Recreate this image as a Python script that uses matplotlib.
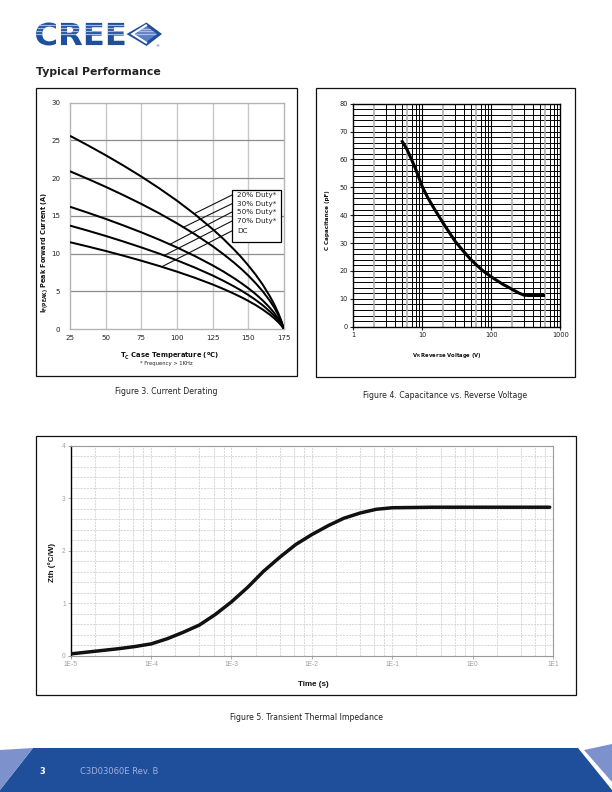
import matplotlib
matplotlib.use("Agg")
import matplotlib.pyplot as plt
import numpy as np
from matplotlib.patches import Rectangle, Polygon, PathPatch
from matplotlib.textpath import TextPath
from matplotlib.font_manager import FontProperties
from matplotlib.ticker import FixedLocator, NullLocator, FixedFormatter
import matplotlib.transforms as mtransforms

# ---------------- data ----------------
# Figure 3: current derating
temp_c = [25, 37.5, 50, 62.5, 75, 87.5, 100, 112.5, 125, 132.5, 140, 145, 150, 155,
          160, 165, 168, 171, 173, 175]
i_duty20 = [25.6, 24.34, 23.03, 21.65, 20.2, 18.65, 17.0, 15.2, 13.23, 11.94, 10.53, 9.52,
            8.42, 7.23, 5.9, 4.37, 3.32, 2.1, 1.15, 0.0]
i_duty30 = [20.9, 19.89, 18.84, 17.73, 16.57, 15.33, 14.0, 12.56, 10.97, 9.92, 8.79, 7.97,
            7.08, 6.1, 5.02, 3.76, 2.88, 1.86, 1.03, 0.0]
i_duty50 = [16.2, 15.41, 14.59, 13.72, 12.81, 11.84, 10.8, 9.67, 8.43, 7.62, 6.73, 6.09,
            5.4, 4.65, 3.8, 2.83, 2.16, 1.38, 0.76, 0.0]
i_duty70 = [13.7, 13.03, 12.33, 11.59, 10.81, 9.99, 9.1, 8.14, 7.09, 6.39, 5.64, 5.1,
            4.51, 3.87, 3.16, 2.34, 1.78, 1.13, 0.61, 0.0]
i_dc = [11.5, 10.93, 10.34, 9.71, 9.05, 8.35, 7.6, 6.79, 5.9, 5.31, 4.67, 4.22,
        3.72, 3.19, 2.59, 1.91, 1.44, 0.9, 0.49, 0.0]
duty_labels = ["20% Duty*", "30% Duty*", "50% Duty*", "70% Duty*", "DC"]
leader_end_temp = [112, 104.5, 95, 91, 89.3]
temp_ticks = [25, 50, 75, 100, 125, 150, 175]
current_ticks = [0, 5, 10, 15, 20, 25, 30]

# Figure 4: capacitance vs reverse voltage
vr = [5, 6, 7, 8, 10, 12, 15, 20, 30, 40, 50, 60, 70, 80, 100, 120, 150, 170, 200,
      230, 250, 280, 300, 350, 400, 600]
cap_pf = [66.9, 63.6, 59.9, 56.6, 50.2, 46.3, 42.2, 37.2, 30.6, 26.9, 24.2, 22.3, 20.8,
          19.6, 17.9, 16.6, 15.1, 14.4, 13.4, 12.6, 12.1, 11.6, 11.3, 11.2, 11.2, 11.2]
vr_ticks = [1, 10, 100, 1000]
vr_ticklabels = ["1", "10", "100", "1000"]
cap_ticks = [0, 10, 20, 30, 40, 50, 60, 70, 80]

# Figure 5: transient thermal impedance
time_s = [1e-5, 2e-5, 4e-5, 6.3e-5, 1e-4, 1.6e-4, 2.5e-4, 4e-4, 6.3e-4, 1e-3, 1.6e-3,
          2.5e-3, 4e-3, 6.3e-3, 1e-2, 1.6e-2, 2.5e-2, 4e-2, 6.3e-2, 0.1, 0.32, 1.0, 3.2, 9.1]
zth = [0.04, 0.09, 0.14, 0.18, 0.23, 0.33, 0.45, 0.59, 0.79, 1.03, 1.31,
       1.61, 1.88, 2.12, 2.31, 2.48, 2.62, 2.72, 2.79, 2.82, 2.83, 2.83, 2.83, 2.83]
time_ticks = [1e-5, 1e-4, 1e-3, 1e-2, 1e-1, 1e0, 1e1]
time_ticklabels = ["1E-5", "1E-4", "1E-3", "1E-2", "1E-1", "1E0", "1E1"]
zth_ticks = [0, 1, 2, 3, 4]

# ---------------- page ----------------
W, H = 612, 792
fig = plt.figure(figsize=(6.12, 7.92), dpi=100)
fig.patch.set_facecolor("white")
plt.rcParams["font.family"] = ["DejaVu Sans"]

bg = fig.add_axes([0, 0, 1, 1], zorder=0)
bg.set_xlim(0, W)
bg.set_ylim(H, 0)
bg.axis("off")

BLUE = "#1f4f9b"
LIGHT = "#7d91cd"

# logo
fp = FontProperties(family="DejaVu Sans", weight="bold")
tp = TextPath((0, 0), "CREE", size=30, prop=fp)
ext = tp.get_extents()
sx = (124.5 - 36) / ext.width
sy = (45.5 - 22.5) / ext.height
tr = mtransforms.Affine2D().translate(-ext.x0, -ext.y0).scale(sx, -sy).translate(36, 45.5)
logo_path = tr.transform_path(tp)
logo = PathPatch(logo_path, facecolor=BLUE, edgecolor="none", transform=bg.transData)
bg.add_patch(logo)
for ys in [25.0, 28.0, 31.0, 34.0]:
    ln, = bg.plot([34, 126], [ys, ys], color="#a6b8e2", lw=0.9)
    ln.set_clip_path(logo)
dia = Polygon([(126.5, 34), (146.5, 22.5), (162, 34), (146.5, 46)], closed=True,
              facecolor=BLUE, edgecolor="none")
bg.add_patch(dia)
inner = Polygon([(135, 34), (147, 26.5), (157, 34), (147, 41.5)], closed=True,
                facecolor="#5f7fc4", edgecolor="none")
bg.add_patch(inner)
for ys in [28.5, 31, 33.5]:
    ln, = bg.plot([130, 160], [ys, ys], color="#a9bbe3", lw=0.9)
    ln.set_clip_path(inner)
bg.plot([146, 132.5, 146], [25.5, 34, 42.5], color="white", lw=1.6, solid_joinstyle="miter")
bg.text(157.5, 46.5, "®", fontsize=3, color=BLUE, ha="center", va="center")

bg.text(36, 72, "Typical Performance", fontsize=7.8, fontweight="bold", color="#222222",
        ha="left", va="center")

# frames
for (x0, y0, x1, y1) in [(36, 88, 296.5, 375.5), (316, 88, 574.5, 377), (36, 435.5, 576, 695)]:
    bg.add_patch(Rectangle((x0, y0), x1 - x0, y1 - y0, facecolor="none",
                           edgecolor="#111111", lw=0.9))

# captions
bg.text(166, 392, "Figure 3. Current Derating", fontsize=5.6, color="#222222", ha="center", va="center")
bg.text(445.5, 395, "Figure 4. Capacitance vs. Reverse Voltage", fontsize=5.6, color="#222222",
        ha="center", va="center")
bg.text(306, 718, "Figure 5. Transient Thermal Impedance", fontsize=5.6, color="#222222",
        ha="center", va="center")

# footer
bg.add_patch(Polygon([(33, 748), (578, 748), (612, 790), (612, 792), (0, 792), (0, 790)],
                     closed=True, facecolor=BLUE, edgecolor="none"))
bg.add_patch(Polygon([(0, 750), (33, 748), (0, 790)], closed=True, facecolor=LIGHT, edgecolor="none"))
bg.add_patch(Polygon([(584, 750), (612, 744), (612, 782)], closed=True, facecolor=LIGHT, edgecolor="none"))
bg.text(42, 771, "3", fontsize=6, fontweight="bold", color="white", ha="center", va="center")
bg.text(80, 771, "C3D03060E Rev. B", fontsize=6, color="#9fb0e0", ha="left", va="center")

# ---------------- Figure 3 ----------------
ax3 = fig.add_axes([70 / W, 1 - 329 / H, 214 / W, 226.4 / H], zorder=2)
ax3.set_xlim(25, 175)
ax3.set_ylim(0, 30)
for x in temp_ticks[1:-1]:
    ax3.axvline(x, color="#c8c8c8", lw=1.0, zorder=1)
for y in current_ticks[1:-1]:
    ax3.axhline(y, color="#8c8c8c", lw=0.9, zorder=1)
series = [i_duty20, i_duty30, i_duty50, i_duty70, i_dc]
for s in series:
    ax3.plot(temp_c, s, color="black", lw=1.45, zorder=3, solid_capstyle="butt",
             solid_joinstyle="round")
box_left, box_right, box_bottom, box_top = 138.5, 172.9, 11.56, 18.4
row_i = [17.75, 16.6, 15.5, 14.3, 13.0]
for lab, s, t_end, ri in zip(duty_labels, series, leader_end_temp, row_i):
    i_end = np.interp(t_end, temp_c, s)
    ax3.plot([t_end, box_left], [i_end, ri], color="#111111", lw=0.8, zorder=2)
    ax3.text(142.2, ri, lab, fontsize=5.2, color="#222222", ha="left", va="center", zorder=6)
ax3.add_patch(Rectangle((box_left, box_bottom), box_right - box_left, box_top - box_bottom,
                        facecolor="white", edgecolor="black", lw=0.9, zorder=5))
ax3.set_xticks(temp_ticks)
ax3.set_yticks(current_ticks)
ax3.tick_params(length=0, labelsize=5.1, colors="#222222")
ax3.tick_params(axis="y", pad=7)
ax3.tick_params(axis="x", pad=4)
for sp in ax3.spines.values():
    sp.set_color("#b4b4b4")
    sp.set_linewidth(1.0)

bg.text(169, 356, r"T$_\mathbf{C}$ Case Temperature ($^\mathbf{o}$C)", fontsize=4.9,
        fontweight="bold", color="#111111", ha="center", va="center")
bg.text(166, 364, "* Frequency > 1KHz", fontsize=3.8, color="#222222", ha="center", va="center")
bg.text(45.5, 252, r"I$_\mathbf{F(PEAK)}$ Peak Forward Current (A)", fontsize=4.7,
        fontweight="bold", color="#111111", ha="center", va="center", rotation=90)

# ---------------- Figure 4 ----------------
ax4 = fig.add_axes([353.3 / W, 1 - 326.7 / H, 207 / W, 223 / H], zorder=2)
ax4.set_xscale("log")
ax4.set_xlim(1, 1000)
ax4.set_ylim(0, 80)
for y in range(2, 80, 2):
    ax4.axhline(y, color="black", lw=0.7, zorder=1)
for dec in [1, 10, 100]:
    for m in range(2, 10):
        if m in (2, 6):
            ax4.axvline(dec * m, color="#a8a8a8", lw=1.1, zorder=1)
        else:
            ax4.axvline(dec * m, color="black", lw=0.7, zorder=1)
for x in [10, 100]:
    ax4.axvline(x, color="black", lw=0.8, zorder=1)
ax4.plot(vr, cap_pf, color="black", lw=2.2, zorder=3, solid_capstyle="butt",
         solid_joinstyle="round")
ax4.xaxis.set_major_locator(FixedLocator(vr_ticks))
ax4.xaxis.set_major_formatter(FixedFormatter(vr_ticklabels))
ax4.xaxis.set_minor_locator(NullLocator())
ax4.set_yticks(cap_ticks)
ax4.tick_params(length=2, width=0.8, labelsize=4.8, colors="#222222", pad=2)
for sp in ax4.spines.values():
    sp.set_color("black")
    sp.set_linewidth(1.0)
bg.text(447, 355.3, r"V$_\mathbf{R}$ Reverse Voltage (V)", fontsize=3.8, fontweight="bold",
        color="#111111", ha="center", va="center")
bg.text(327.5, 219.7, "C Capacitance (pF)", fontsize=4.1, fontweight="bold",
        color="#111111", ha="center", va="center", rotation=90)

# ---------------- Figure 5 ----------------
ax5 = fig.add_axes([70.7 / W, 1 - 656 / H, 482.3 / W, 210.3 / H], zorder=2)
ax5.set_xscale("log")
ax5.set_xlim(1e-5, 10)
ax5.set_ylim(0, 4)
gkw = dict(color="#d2d2d2", lw=0.6, ls=(0, (2.5, 1.2)), zorder=1)
for dec in [1e-5, 1e-4, 1e-3, 1e-2, 1e-1, 1e0]:
    for m in [1, 2, 4, 6, 8]:
        if dec * m > 1e-5 * 1.01:
            ax5.axvline(dec * m, **gkw)
for k in range(1, 20):
    ax5.axhline(k * 0.2, **gkw)
ax5.plot(time_s, zth, color="#111111", lw=2.5, zorder=3, solid_capstyle="round",
         solid_joinstyle="round")
ax5.xaxis.set_major_locator(FixedLocator(time_ticks))
ax5.xaxis.set_major_formatter(FixedFormatter(time_ticklabels))
ax5.xaxis.set_minor_locator(NullLocator())
ax5.set_yticks(zth_ticks)
ax5.tick_params(length=2, width=0.6, labelsize=4.8, colors="#a0a0a0", pad=1.5)
for f in ax5.get_xticklabels() + ax5.get_yticklabels():
    f.set_family("Liberation Sans")
for name, sp in ax5.spines.items():
    sp.set_color("black" if name == "left" else "#9a9a9a")
    sp.set_linewidth(1.0 if name == "left" else 0.8)
bg.text(313, 685, "Time (s)", fontsize=5.8, fontweight="bold", family="Liberation Sans",
        color="#111111", ha="center", va="center")
bg.text(52, 563, "Zth (°C/W)", fontsize=5.8, fontweight="bold", family="Liberation Sans",
        color="#111111", ha="center", va="center", rotation=90)

fig.savefig("out.png", dpi=100, facecolor="white")
